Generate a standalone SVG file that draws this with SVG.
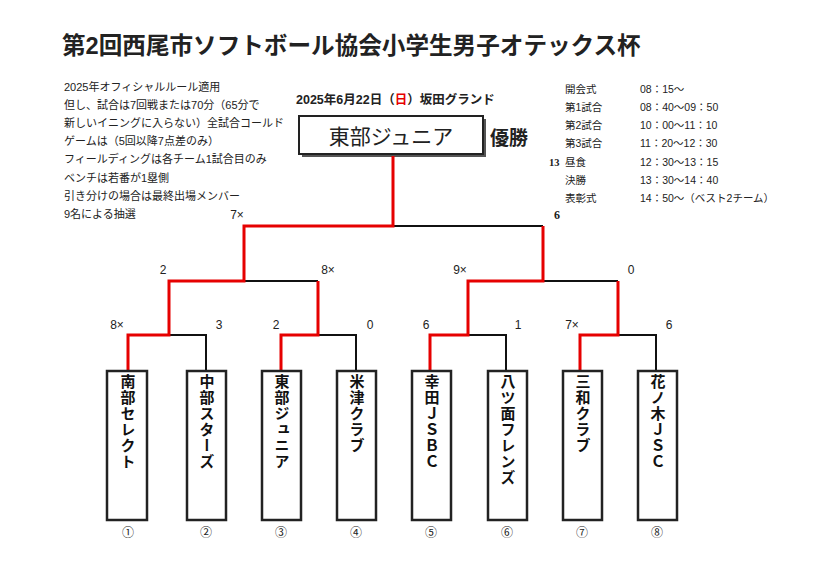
<svg xmlns="http://www.w3.org/2000/svg" width="821" height="580" viewBox="0 0 821 580">
<style>
text{font-family:"Liberation Sans","Noto Sans CJK JP",sans-serif;fill:#222}
.n{font-size:11px}
.s{font-size:10.5px}
.team{font-size:15px;font-weight:bold;fill:#111;writing-mode:vertical-rl;text-orientation:upright;letter-spacing:1px}
.box{fill:#fff;stroke:#222;stroke-width:2.5}
.k{fill:none;stroke:#111;stroke-width:2}
.r{fill:none;stroke:#e60000;stroke-width:3}
.num{font-size:12px;text-anchor:middle}
</style>
<rect width="821" height="580" fill="#fff"/>
<text x="62" y="54" style="font-size:23.6px;font-weight:bold" fill="#111">第2回西尾市ソフトボール協会小学生男子オテックス杯</text>
<g id="notes" class="n">
<text x="64" y="91" class="n">2025年オフィシャルルール適用</text>
<text x="64" y="109" class="n">但し、試合は7回戦または70分（65分で</text>
<text x="64" y="127" class="n">新しいイニングに入らない）全試合コールド</text>
<text x="64" y="145" class="n">ゲームは（5回以降7点差のみ）</text>
<text x="64" y="163" class="n">フィールディングは各チーム1試合目のみ</text>
<text x="64" y="182" class="n">ベンチは若番が1塁側</text>
<text x="64" y="200" class="n">引き分けの場合は最終出場メンバー</text>
<text x="64" y="218" class="n">9名による抽選</text>
</g>
<text x="296" y="104" style="font-size:12.5px;font-weight:bold">2025年6月22日（<tspan fill="#e60000">日</tspan>）坂田グランド</text>
<g id="schedule" class="s">
<text x="565" y="93" class="s">開会式</text><text x="640" y="93" class="s">08：15～</text>
<text x="565" y="111" class="s">第1試合</text><text x="640" y="111" class="s">08：40～09：50</text>
<text x="565" y="129" class="s">第2試合</text><text x="640" y="129" class="s">10：00～11：10</text>
<text x="565" y="147" class="s">第3試合</text><text x="640" y="147" class="s">11：20～12：30</text>
<text x="549" y="166" class="s" style="font-family:'Liberation Serif',serif;font-weight:bold">13</text>
<text x="565" y="166" class="s">昼食</text><text x="640" y="166" class="s">12：30～13：15</text>
<text x="565" y="184" class="s">決勝</text><text x="640" y="184" class="s">13：30～14：40</text>
<text x="565" y="202" class="s">表彰式</text><text x="640" y="202" class="s">14：50～（ベスト2チーム）</text>
</g>
<g id="champion">
<rect x="302" y="119" width="184" height="38" fill="#555"/>
<rect x="299" y="116" width="184" height="38" fill="#fff" stroke="#222" stroke-width="2"/>
<text x="391" y="144" text-anchor="middle" style="font-size:21px;font-family:'Liberation Serif','Noto Sans CJK JP',serif" fill="#111">東部ジュニア</text>
<text x="490" y="145" style="font-size:19px;font-weight:bold" fill="#111">優勝</text>
</g>
<g id="connectors">
<path class="k" d="M128 335H206V371M281 335H356V371M430 335H506V371M580 335H656V371M169 281H318M468 281H618M244 226H543"/>
<path class="r" d="M128 371V335H169V281H244V226H393V156M318 281V335H281V371M543 226V281H468V335H430V371M618 281V335H580V371"/>
</g>
<g id="scores" class="num">
<text x="237" y="219" class="num">7×</text><text x="557" y="219" class="num" style="font-family:'Liberation Serif',serif;font-weight:bold">6</text>
<text x="163" y="274" class="num">2</text><text x="328" y="274" class="num">8×</text>
<text x="460" y="274" class="num">9×</text><text x="631" y="274" class="num">0</text>
<text x="117" y="329" class="num">8×</text><text x="219" y="329" class="num">3</text>
<text x="276" y="329" class="num">2</text><text x="370" y="329" class="num">0</text>
<text x="426" y="329" class="num">6</text><text x="518" y="329" class="num">1</text>
<text x="572" y="329" class="num">7×</text><text x="669" y="329" class="num">6</text>
</g>
<g id="t1"><rect class="box" x="107" y="371" width="40" height="149"/><text class="team" x="127" y="374">南部セレクト</text><text class="num" x="128" y="537">①</text></g>
<g id="t2"><rect class="box" x="187" y="371" width="39" height="149"/><text class="team" x="206" y="374">中部スターズ</text><text class="num" x="206" y="537">②</text></g>
<g id="t3"><rect class="box" x="262" y="371" width="39" height="149"/><text class="team" x="281" y="374">東部ジュニア</text><text class="num" x="281" y="537">③</text></g>
<g id="t4"><rect class="box" x="337" y="371" width="39" height="149"/><text class="team" x="356" y="374">米津クラブ</text><text class="num" x="356" y="537">④</text></g>
<g id="t5"><rect class="box" x="412" y="371" width="39" height="149"/><text class="team" x="431" y="374">幸田ＪＳＢＣ</text><text class="num" x="431" y="537">⑤</text></g>
<g id="t6"><rect class="box" x="488" y="371" width="39" height="149"/><text class="team" x="507" y="374">八ツ面フレンズ</text><text class="num" x="507" y="537">⑥</text></g>
<g id="t7"><rect class="box" x="563" y="371" width="39" height="149"/><text class="team" x="582" y="374">三和クラブ</text><text class="num" x="582" y="537">⑦</text></g>
<g id="t8"><rect class="box" x="638" y="371" width="39" height="149"/><text class="team" x="657" y="374">花ノ木ＪＳＣ</text><text class="num" x="657" y="537">⑧</text></g>
</svg>
